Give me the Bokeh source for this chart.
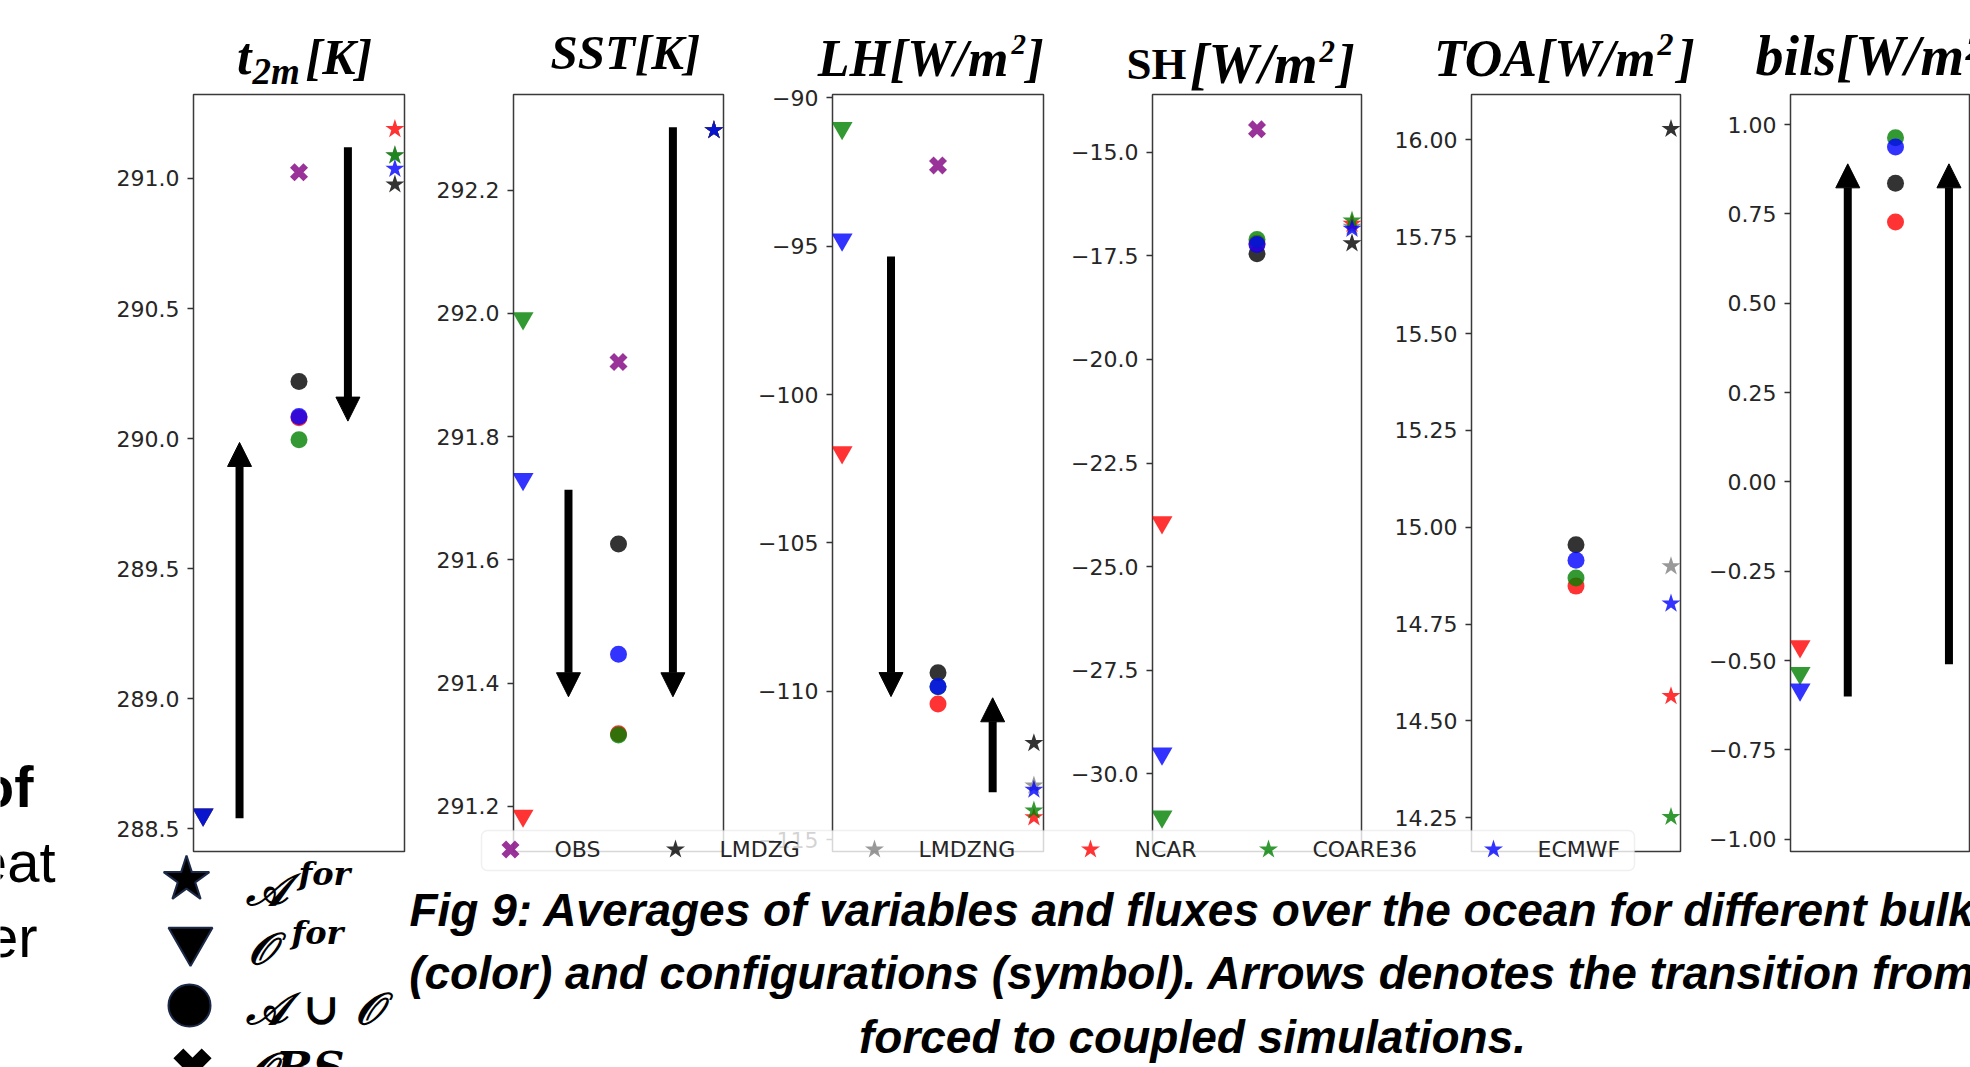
from bokeh.plotting import figure
from bokeh.layouts import row, column
from bokeh.models import (Range1d, FixedTicker, ColumnDataSource, Arrow, NormalHead,
                          BoxAnnotation, CustomJSTickFormatter)
from bokeh.core.properties import value
from bokeh.embed import file_html
from bokeh.resources import INLINE

# ---------------------------------------------------------------- data
SCHEMES = ["LMDZG", "LMDZNG", "NCAR", "COARE36", "ECMWF"]
LEGEND_LABELS = ["OBS", "LMDZG", "LMDZNG", "NCAR", "COARE36", "ECMWF"]
# configuration positions on the x axis: O_for, A∪O (and OBS), A_for
X_OFOR, X_AUO, X_AFOR = 0, 1, 2

# t2m [K]
T2M_AFOR = [290.977, 291.090, 291.190, 291.088, 291.037]
T2M_OFOR = [None, None, 288.554, 288.554, 288.554]
T2M_AUO = [290.219, None, 290.080, 289.995, 290.085]
T2M_OBS = [291.024]
T2M_ARROW_X = [0.38, 1.51]
T2M_ARROW_FROM = [288.54, 291.12]
T2M_ARROW_TO = [289.985, 290.067]
T2M_YLIM = (288.412, 291.323)
T2M_TICKS = [288.5, 289.0, 289.5, 290.0, 290.5, 291.0]
T2M_TICK_LABELS = ["288.5", "289.0", "289.5", "290.0", "290.5", "291.0"]

# SST [K]
SST_AFOR = [292.297, 292.297, 292.297, 292.297, 292.297]
SST_OFOR = [None, None, 291.185, 291.992, 291.731]
SST_AUO = [291.626, None, 291.318, 291.316, 291.447]
SST_OBS = [291.921]
SST_ARROW_X = [0.476, 1.57]
SST_ARROW_FROM = [291.714, 292.302]
SST_ARROW_TO = [291.378, 291.378]
SST_YLIM = (291.127, 292.355)
SST_TICKS = [291.2, 291.4, 291.6, 291.8, 292.0, 292.2]
SST_TICK_LABELS = ["291.2", "291.4", "291.6", "291.8", "292.0", "292.2"]

# LH [W/m2]
LH_AFOR = [-111.75, -113.18, -114.25, -114.02, -113.32]
LH_OFOR = [None, None, -101.95, -91.02, -94.78]
LH_AUO = [-109.38, None, -110.43, -109.85, -109.84]
LH_OBS = [-92.28]
LH_ARROW_X = [0.51, 1.57]
LH_ARROW_FROM = [-95.35, -113.4]
LH_ARROW_TO = [-110.18, -110.22]
LH_YLIM = (-115.40, -89.89)
LH_TICKS = [-115, -110, -105, -100, -95, -90]
LH_TICK_LABELS = ["\u2212115", "\u2212110", "\u2212105", "\u2212100", "\u221295", "\u221290"]

# SH [W/m2]
SH_AFOR = [-17.20, -16.80, -16.73, -16.65, -16.85]
SH_OFOR = [None, None, -23.93, -31.03, -29.51]
SH_AUO = [-17.45, None, -17.20, -17.11, -17.23]
SH_OBS = [-14.45]
SH_ARROW_X = []
SH_ARROW_FROM = []
SH_ARROW_TO = []
SH_YLIM = (-31.87, -13.61)
SH_TICKS = [-30.0, -27.5, -25.0, -22.5, -20.0, -17.5, -15.0]
SH_TICK_LABELS = ["\u221230.0", "\u221227.5", "\u221225.0", "\u221222.5", "\u221220.0",
                  "\u221217.5", "\u221215.0"]

# TOA [W/m2]
TOA_AFOR = [16.028, 14.899, 14.564, 14.252, 14.803]
TOA_OFOR = [None, None, None, None, None]
TOA_AUO = [14.955, None, 14.848, 14.869, 14.915]
TOA_OBS = []
TOA_ARROW_X = []
TOA_ARROW_FROM = []
TOA_ARROW_TO = []
TOA_YLIM = (14.163, 16.117)
TOA_TICKS = [14.25, 14.50, 14.75, 15.00, 15.25, 15.50, 15.75, 16.00]
TOA_TICK_LABELS = ["14.25", "14.50", "14.75", "15.00", "15.25", "15.50", "15.75", "16.00"]

# bils [W/m2]
BILS_AFOR = [None, None, None, None, None]
BILS_OFOR = [None, None, -0.460, -0.535, -0.581]
BILS_AUO = [0.836, None, 0.727, 0.963, 0.937]
BILS_OBS = []
BILS_ARROW_X = [0.50, 1.56]
BILS_ARROW_FROM = [-0.600, -0.510]
BILS_ARROW_TO = [0.890, 0.890]
BILS_YLIM = (-1.034, 1.084)
BILS_TICKS = [-1.00, -0.75, -0.50, -0.25, 0.00, 0.25, 0.50, 0.75, 1.00]
BILS_TICK_LABELS = ["\u22121.00", "\u22120.75", "\u22120.50", "\u22120.25", "0.00",
                    "0.25", "0.50", "0.75", "1.00"]

CAPTION_LINES = [
    "Fig 9: Averages of variables and fluxes over the ocean for different bulk",
    "(color) and configurations (symbol). Arrows denotes the transition from",
    "forced to coupled simulations.",
]

# ---------------------------------------------------------------- styles
SCHEME_COLORS = ["black", "gray", "red", "green", "blue"]
OBS_COLOR = "purple"
ALPHA = 0.8
TICK_FONT = "DejaVu Sans"
TICK_COLOR = "#262626"

PANELS = [
    dict(afor=T2M_AFOR, ofor=T2M_OFOR, auo=T2M_AUO, obs=T2M_OBS, ylim=T2M_YLIM,
         ticks=T2M_TICKS, labels=T2M_TICK_LABELS,
         ax=T2M_ARROW_X, a0=T2M_ARROW_FROM, a1=T2M_ARROW_TO),
    dict(afor=SST_AFOR, ofor=SST_OFOR, auo=SST_AUO, obs=SST_OBS, ylim=SST_YLIM,
         ticks=SST_TICKS, labels=SST_TICK_LABELS,
         ax=SST_ARROW_X, a0=SST_ARROW_FROM, a1=SST_ARROW_TO),
    dict(afor=LH_AFOR, ofor=LH_OFOR, auo=LH_AUO, obs=LH_OBS, ylim=LH_YLIM,
         ticks=LH_TICKS, labels=LH_TICK_LABELS,
         ax=LH_ARROW_X, a0=LH_ARROW_FROM, a1=LH_ARROW_TO),
    dict(afor=SH_AFOR, ofor=SH_OFOR, auo=SH_AUO, obs=SH_OBS, ylim=SH_YLIM,
         ticks=SH_TICKS, labels=SH_TICK_LABELS,
         ax=SH_ARROW_X, a0=SH_ARROW_FROM, a1=SH_ARROW_TO),
    dict(afor=TOA_AFOR, ofor=TOA_OFOR, auo=TOA_AUO, obs=TOA_OBS, ylim=TOA_YLIM,
         ticks=TOA_TICKS, labels=TOA_TICK_LABELS,
         ax=TOA_ARROW_X, a0=TOA_ARROW_FROM, a1=TOA_ARROW_TO),
    dict(afor=BILS_AFOR, ofor=BILS_OFOR, auo=BILS_AUO, obs=BILS_OBS, ylim=BILS_YLIM,
         ticks=BILS_TICKS, labels=BILS_TICK_LABELS,
         ax=BILS_ARROW_X, a0=BILS_ARROW_FROM, a1=BILS_ARROW_TO),
]

# figure width, left border, right border (pixels)
PANEL_BOXES = [(414, 193, 10), (319, 99, 10), (320, 99, 10),
               (318, 99, 10), (319, 100, 10), (280, 100, 0)]
PANEL_TOP, PANEL_FRAME_H, PANEL_BOTTOM = 94, 757, 20
PANEL_H = PANEL_TOP + PANEL_FRAME_H + PANEL_BOTTOM
UNIT_PX = 210 / 2.2


def tick_formatter(ticks, labels):
    return CustomJSTickFormatter(args=dict(tvals=ticks, tlabels=labels), code="""
const i = tvals.findIndex((t) => Math.abs(t - tick) < 1e-6);
return i >= 0 ? tlabels[i] : "";
""")


def make_panel(spec, box, full):
    w, lb, rb = box
    frame_w = w - lb - rb
    x_end = 2.1 if full else -0.1 + frame_w / UNIT_PX
    p = figure(width=w, height=PANEL_H, x_range=Range1d(-0.1, x_end),
               y_range=Range1d(*spec["ylim"]), x_axis_type=None,
               toolbar_location=None, output_backend="svg",
               min_border_left=lb, min_border_right=rb,
               min_border_top=PANEL_TOP, min_border_bottom=PANEL_BOTTOM,
               background_fill_color="white", border_fill_color=None,
               outline_line_color="#3a3a3a", outline_line_width=1.5)
    p.grid.visible = False
    ax = p.yaxis[0]
    ax.ticker = FixedTicker(ticks=spec["ticks"])
    ax.formatter = tick_formatter(spec["ticks"], spec["labels"])
    ax.major_label_text_font = TICK_FONT
    ax.major_label_text_font_size = "22px"
    ax.major_label_text_color = TICK_COLOR
    ax.major_label_standoff = 8
    ax.major_tick_out = 6
    ax.major_tick_in = 0
    ax.minor_tick_out = 0
    ax.minor_tick_in = 0
    ax.major_tick_line_color = "#333333"
    ax.major_tick_line_width = 1.3
    ax.axis_line_color = None

    # observations
    if spec["obs"]:
        p.scatter(x=[X_AUO] * len(spec["obs"]), y=spec["obs"], marker="x", size=19,
                  line_color=OBS_COLOR, line_alpha=ALPHA, line_width=6.5)
    for key, xpos, marker, size in (("ofor", X_OFOR, "inverted_triangle", 21),
                                    ("auo", X_AUO, "circle", 17),
                                    ("afor", X_AFOR, "star", 20)):
        xs, ys, cs = [], [], []
        for v, c in zip(spec[key], SCHEME_COLORS):
            if v is not None:
                xs.append(xpos)
                ys.append(v)
                cs.append(c)
        if xs:
            src = ColumnDataSource(dict(x=xs, y=ys, c=cs))
            p.scatter(x="x", y="y", source=src, marker=marker, size=size,
                      fill_color="c", fill_alpha=ALPHA, line_color=None)
    if spec["ax"]:
        asrc = ColumnDataSource(dict(x=spec["ax"], y0=spec["a0"], y1=spec["a1"]))
        p.add_layout(Arrow(x_start="x", y_start="y0", x_end="x", y_end="y1", source=asrc,
                           line_color="black", line_width=8,
                           end=NormalHead(size=24, fill_color="black", line_color="black",
                                          line_width=1)))
    return p


panels = [make_panel(s, b, i < 5) for i, (s, b) in enumerate(zip(PANELS, PANEL_BOXES))]

# ---------------------------------------------------------------- overlay (page texts)
W, H = 1970, 1067
ov = figure(width=W, height=H, x_range=Range1d(0, W), y_range=Range1d(H, 0),
            x_axis_type=None, y_axis_type=None, toolbar_location=None,
            output_backend="svg", min_border=0, outline_line_color=None,
            background_fill_color=None, border_fill_color=None)
ov.grid.visible = False
ov.margin = (-PANEL_H, 0, 0, 0)


def add_text(xs, ys, texts, font, size, style="normal", align="left",
             baseline="middle", color="black"):
    ov.text(x=xs, y=ys, text=texts, text_font=value(font),
            text_font_size=f"{size}px", text_font_style=style, text_align=align,
            text_baseline=baseline, text_color=color)


TITLE_FONT = "Liberation Serif"
BI = "bold italic"
# panel titles (x, vertical centre of capitals, pieces with sub/superscripts)
add_text([251], [56], ["t"], TITLE_FONT, 52, BI, align="right")
add_text([252], [71], ["2m"], TITLE_FONT, 37, BI)
add_text([305], [56], ["[K]"], TITLE_FONT, 50, BI)
add_text([550], [52], ["SST[K]"], TITLE_FONT, 49, BI)
add_text([1008], [58], ["LH[W/m"], TITLE_FONT, 52, BI, align="right")
add_text([1011], [44], ["2"], TITLE_FONT, 29, BI)
add_text([1026], [58], ["]"], TITLE_FONT, 52, BI)
add_text([1126], [63], ["SH"], TITLE_FONT, 45, "bold")
add_text([1317], [63], ["[W/m"], TITLE_FONT, 56, BI, align="right")
add_text([1319], [51], ["2"], TITLE_FONT, 31, BI)
add_text([1337], [63], ["]"], TITLE_FONT, 52, BI)
add_text([1655], [58], ["TOA[W/m"], TITLE_FONT, 52, BI, align="right")
add_text([1657], [44], ["2"], TITLE_FONT, 32, BI)
add_text([1677], [58], ["]"], TITLE_FONT, 52, BI)
add_text([1755], [55], ["bils[W/m\u00b2]"], TITLE_FONT, 56, BI)

# cut-off poster text on the left
add_text([33], [786], ["of"], "Liberation Sans", 58, "bold", align="right")
add_text([55], [861], ["eat"], "Liberation Sans", 58, align="right")
add_text([37], [936], ["er"], "Liberation Sans", 58, align="right")

# series legend
ov.add_layout(BoxAnnotation(left=481, right=1634, top=830, bottom=870,
                            fill_color="white", fill_alpha=0.8, line_color="#cccccc",
                            line_width=1.5, border_radius=6, level="underlay"))
LEG_X = [510, 675, 874, 1090, 1268, 1493]
LEG_Y = 849
ov.scatter(x=LEG_X[:1], y=[LEG_Y], marker="x", size=19, line_color=OBS_COLOR,
           line_alpha=ALPHA, line_width=6.5)
ov.scatter(x=LEG_X[1:], y=[LEG_Y] * 5, marker="star", size=20, fill_color=SCHEME_COLORS,
           fill_alpha=ALPHA, line_color=None)
add_text([x + 44 for x in LEG_X], [LEG_Y] * 6, LEGEND_LABELS, TICK_FONT, 22,
         color=TICK_COLOR)

# configuration (symbol) key
EDGE = "#1c2a48"
ov.scatter(x=[186], y=[879], marker="star", size=48, fill_color="black",
           line_color=EDGE, line_width=2)
ov.scatter(x=[190], y=[940], marker="inverted_triangle", size=44, fill_color="black",
           line_color=EDGE, line_width=2)
ov.scatter(x=[189], y=[1005], marker="circle", size=42, fill_color="black",
           line_color=EDGE, line_width=2)
ov.scatter(x=[192], y=[1067], marker="x", size=40, line_color="black", line_width=14)
KEY_FONT = "DejaVu Serif"
add_text([245], [889], ["\U0001D49C"], KEY_FONT, 44, BI)
add_text([298], [873], ["for"], KEY_FONT, 32, BI)
add_text([247], [948], ["\U0001D4AA"], KEY_FONT, 44, BI)
add_text([291], [932], ["for"], KEY_FONT, 32, BI)
add_text([245], [1008], ["\U0001D49C \u222a \U0001D4AA"], KEY_FONT, 44, BI)
add_text([247], [1068], ["\U0001D4AABS"], KEY_FONT, 44, BI)

# caption
add_text([1192] * 3, [909, 972, 1036], CAPTION_LINES, "Liberation Sans", 46, BI,
         align="center")

layout = column(row(*panels), ov)
open("out.html", "w").write(file_html(layout, INLINE))
